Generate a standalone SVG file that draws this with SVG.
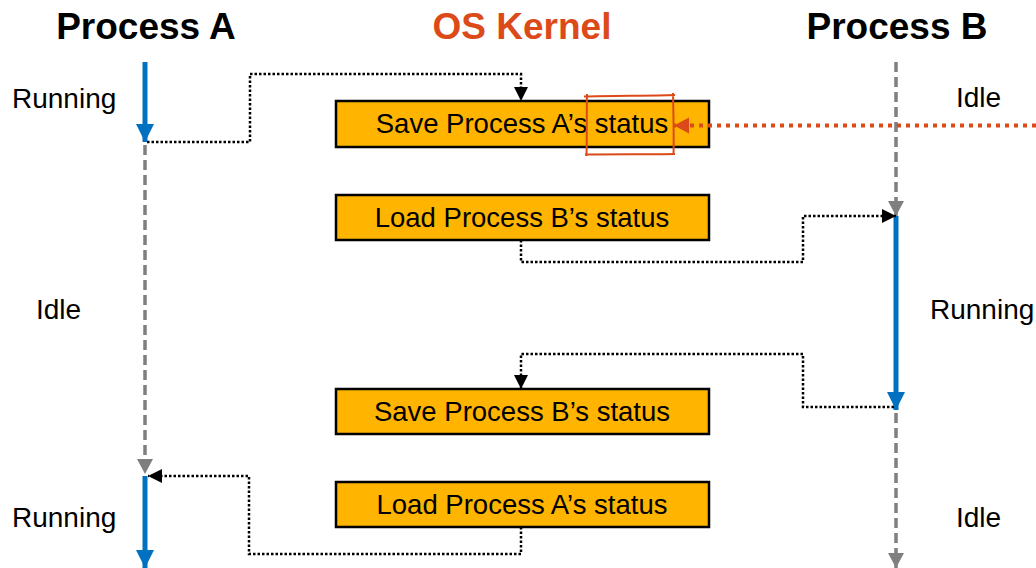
<svg xmlns="http://www.w3.org/2000/svg" width="1036" height="568" viewBox="0 0 1036 568">
  <style>
    .title { font-family: "Liberation Sans", Arial, sans-serif; font-weight: bold; font-size: 37px; text-anchor: middle; }
    .label { font-family: "Liberation Sans", Arial, sans-serif; font-size: 28px; fill: #000; }
    .step rect { fill: #FFB400; stroke: #000; stroke-width: 2.5; }
    .step text { font-family: "Liberation Sans", Arial, sans-serif; font-size: 27.5px; text-anchor: middle; fill: #000; }
    .run { stroke: #0070C0; stroke-width: 5; fill: none; }
    .idle { stroke: #7F7F7F; stroke-width: 3.5; stroke-dasharray: 10 5; fill: none; }
    .flow { stroke: #000; stroke-width: 2.5; stroke-dasharray: 2.5 2; fill: none; }
    .hint { stroke: #DC4A19; stroke-width: 4; stroke-dasharray: 4 5; fill: none; }
  </style>
  <defs>
    <marker id="blueHead" markerUnits="userSpaceOnUse" markerWidth="20" markerHeight="20" refX="18" refY="9" orient="auto">
      <path d="M0,0 L18,9 L0,18 Z" fill="#0070C0"/>
    </marker>
    <marker id="grayHead" markerUnits="userSpaceOnUse" markerWidth="18" markerHeight="18" refX="15" refY="8" orient="auto">
      <path d="M0,0 L15,8 L0,16 Z" fill="#7F7F7F"/>
    </marker>
    <marker id="blackHead" markerUnits="userSpaceOnUse" markerWidth="16" markerHeight="16" refX="14" refY="7" orient="auto">
      <path d="M0,0 L14,7 L0,14 Z" fill="#000"/>
    </marker>
    <marker id="redHead" markerUnits="userSpaceOnUse" markerWidth="18" markerHeight="18" refX="15" refY="8" orient="auto">
      <path d="M0,0 L15,8 L0,16 Z" fill="#DC4A19"/>
    </marker>
  </defs>

  <rect width="1036" height="568" fill="#fff"/>

  <!-- column headings -->
  <text class="title" x="146" y="39" fill="#000">Process A</text>
  <text class="title" x="522" y="39" fill="#DC4A19">OS Kernel</text>
  <text class="title" x="897" y="39" fill="#000">Process B</text>

  <!-- timeline state labels -->
  <text class="label" x="12" y="108">Running</text>
  <text class="label" x="36" y="319">Idle</text>
  <text class="label" x="12" y="527">Running</text>
  <text class="label" x="956" y="107">Idle</text>
  <text class="label" x="930" y="319">Running</text>
  <text class="label" x="956" y="527">Idle</text>

  <!-- kernel steps -->
  <g id="save-a" class="step">
    <rect x="336" y="101" width="373" height="46"/>
    <text x="522" y="133">Save Process A’s status</text>
  </g>
  <g id="load-b" class="step">
    <rect x="336" y="195" width="373" height="45"/>
    <text x="522" y="227">Load Process B’s status</text>
  </g>
  <g id="save-b" class="step">
    <rect x="336" y="389" width="373" height="45"/>
    <text x="522" y="421">Save Process B’s status</text>
  </g>
  <g id="load-a" class="step">
    <rect x="336" y="482" width="373" height="45"/>
    <text x="522" y="514">Load Process A’s status</text>
  </g>

  <!-- process timelines -->
  <g id="timeline-a">
    <line class="run" x1="145" y1="62" x2="145" y2="142" marker-end="url(#blueHead)"/>
    <line class="idle" x1="145" y1="145" x2="145" y2="474" marker-end="url(#grayHead)"/>
    <line class="run" x1="145" y1="476" x2="145" y2="568" marker-end="url(#blueHead)"/>
  </g>
  <g id="timeline-b">
    <line class="idle" x1="896" y1="62" x2="896" y2="216" marker-end="url(#grayHead)"/>
    <line class="run" x1="896" y1="216" x2="896" y2="410" marker-end="url(#blueHead)"/>
    <line class="idle" x1="896" y1="413" x2="896" y2="568" marker-end="url(#grayHead)"/>
  </g>

  <!-- control flow between processes and kernel -->
  <g id="connectors">
    <path class="flow" d="M147,142 H250 V74 H521 V101" marker-end="url(#blackHead)"/>
    <path class="flow" d="M521,240 V262 H803 V216 H896" marker-end="url(#blackHead)"/>
    <path class="flow" d="M894,407 H803 V354 H521 V389" marker-end="url(#blackHead)"/>
    <path class="flow" d="M521,527 V554 H249 V476 H148" marker-end="url(#blackHead)"/>
    <path class="hint" d="M1036,125.5 H674" marker-end="url(#redHead)"/>
    <path d="M584,96.5 C610,95.5 650,96 675,95 M673,93 C673.5,115 674,135 673.5,155 M675,154 C650,154.5 612,154 585,154.5 M586.5,156 C587,135 586.5,115 587,94"
          fill="none" stroke="#DC4A19" stroke-width="2"/>
  </g>
</svg>
